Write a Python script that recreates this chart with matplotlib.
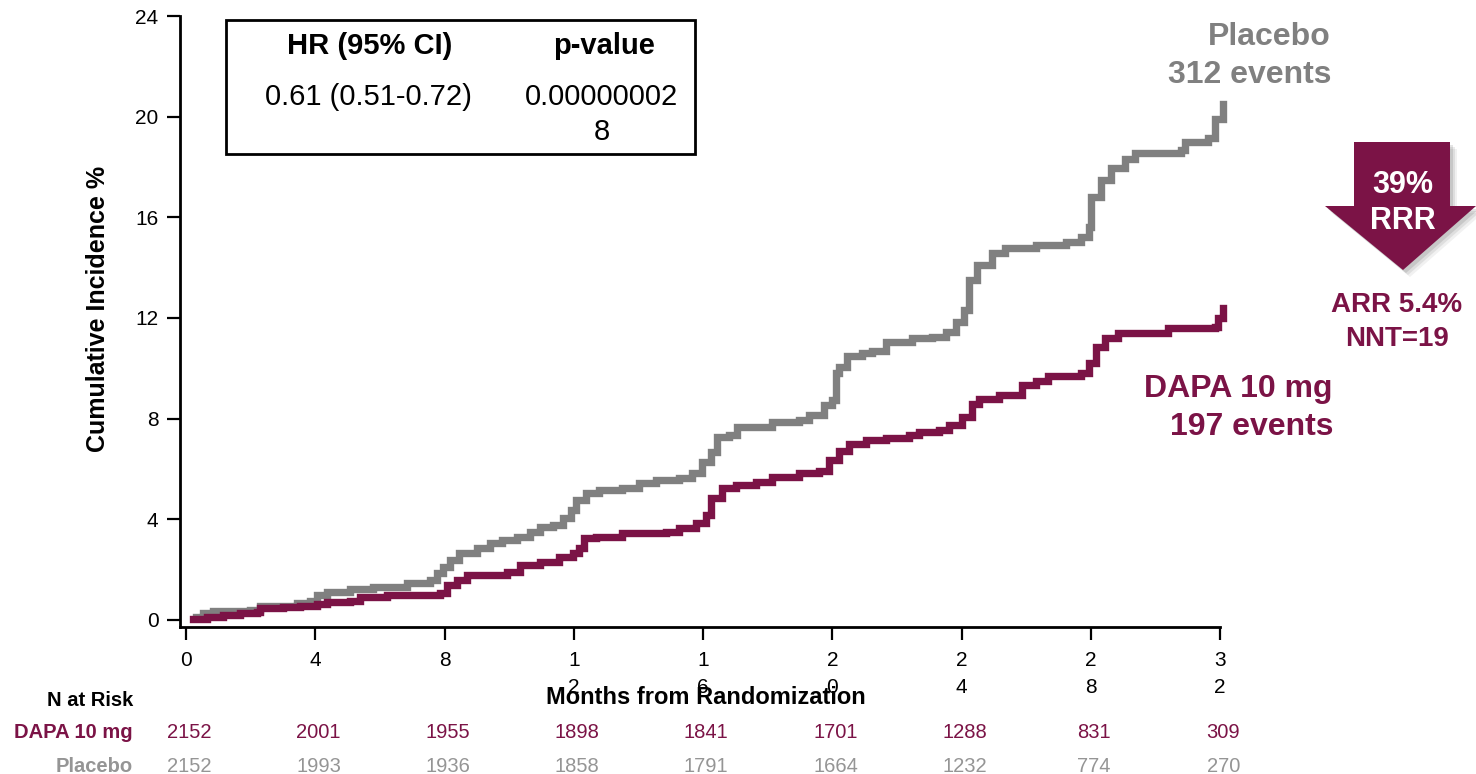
import numpy as np
import matplotlib.pyplot as plt
from matplotlib.patches import Rectangle, Polygon
from matplotlib.transforms import blended_transform_factory

plt.rcParams['font.family'] = ['Liberation Sans', 'DejaVu Sans']

W, H = 1476, 774
PURPLE = '#7b1346'
GREY = '#808080'
LIGHT_GREY = '#959595'

# cumulative incidence, placebo arm (months, %)
placebo_t = [0.31, 0.53, 0.83, 1.98, 2.29, 3.43, 3.83, 4.05, 4.36, 5.07, 5.78, 6.83,
             7.54, 7.75, 7.94, 8.16, 8.46, 8.99, 9.39, 9.79, 10.23, 10.63, 10.94, 11.34,
             11.65, 11.92, 12.08, 12.39, 12.79, 13.50, 14.03, 14.55, 15.26, 15.66, 15.97,
             16.25, 16.43, 16.81, 17.05, 18.13, 18.97, 19.28, 19.74, 19.99, 20.11, 20.20,
             20.45, 20.91, 21.22, 21.66, 22.46, 23.08, 23.51, 23.82, 24.07, 24.22, 24.47,
             24.93, 25.36, 26.29, 27.22, 27.71, 27.93, 28.02, 28.33, 28.64, 29.07, 29.38,
             30.80, 30.92, 31.63, 31.85, 32.10]
placebo_y = [0.10, 0.28, 0.36, 0.40, 0.56, 0.68, 0.75, 1.00, 1.11, 1.23, 1.31, 1.47,
             1.60, 1.87, 2.10, 2.38, 2.66, 2.86, 3.05, 3.18, 3.30, 3.50, 3.70, 3.77,
             4.05, 4.37, 4.77, 5.05, 5.16, 5.24, 5.44, 5.56, 5.64, 5.84, 6.28,
             6.67, 7.27, 7.35, 7.67, 7.87, 7.95, 8.14, 8.54, 8.74, 9.80, 10.05,
             10.50, 10.60, 10.70, 11.05, 11.20, 11.25, 11.45, 11.84, 12.30, 13.50, 14.10,
             14.60, 14.80, 14.90, 15.00, 15.20, 15.60, 16.80, 17.50, 17.95, 18.30, 18.55,
             18.67, 19.00, 19.15, 19.90, 20.50]

# cumulative incidence, dapagliflozin arm (months, %)
dapa_t = [0.20, 0.65, 1.14, 1.67, 2.19, 2.29, 3.00, 3.52, 4.05, 4.36, 5.07, 5.38, 6.21,
          7.85, 8.06, 8.37, 8.68, 9.92, 10.32, 10.94, 11.55, 11.96, 12.17, 12.33, 12.70,
          13.50, 14.86, 15.26, 15.79, 16.09, 16.25, 16.59, 17.02, 17.64, 18.13, 18.97,
          19.59, 19.90, 20.20, 20.51, 21.04, 21.66, 22.37, 22.68, 23.29, 23.60, 24.00,
          24.31, 24.53, 25.15, 25.86, 26.29, 26.69, 27.71, 27.93, 28.17, 28.45, 28.85,
          30.40, 31.85, 31.94, 32.10]
dapa_y = [0.05, 0.12, 0.20, 0.28, 0.32, 0.48, 0.52, 0.56, 0.64, 0.72, 0.75, 0.91, 1.00,
          1.07, 1.39, 1.60, 1.79, 1.91, 2.19, 2.30, 2.50, 2.66, 2.86, 3.26, 3.30,
          3.45, 3.50, 3.65, 3.85, 4.17, 4.85, 5.24, 5.36, 5.50, 5.70, 5.83,
          5.90, 6.36, 6.70, 7.00, 7.15, 7.23, 7.35, 7.47, 7.55, 7.75, 8.07,
          8.60, 8.80, 8.95, 9.35, 9.50, 9.70, 9.80, 10.20, 10.85, 11.20, 11.40,
          11.60, 11.65, 12.00, 12.40]

x_ticks = [0, 4, 8, 12, 16, 20, 24, 28, 32]
x_tick_labels = ['0', '4', '8', '1\n2', '1\n6', '2\n0', '2\n4', '2\n8', '3\n2']
y_ticks = [0, 4, 8, 12, 16, 20, 24]

risk_dapa = [2152, 2001, 1955, 1898, 1841, 1701, 1288, 831, 309]
risk_placebo = [2152, 1993, 1936, 1858, 1791, 1664, 1232, 774, 270]


def fx(x):
    return x / W


def fy(y):
    return 1 - y / H


fig = plt.figure(figsize=(W / 100, H / 100), dpi=100)
ax_w = (1220 - 180) / W
ax = fig.add_axes([fx(180), fy(627), ax_w, (627 - 16) / H])

ax.step(placebo_t, placebo_y, where='post', color=GREY, lw=5.3,
        solid_joinstyle='miter', clip_on=False)
ax.step(dapa_t, dapa_y, where='post', color=PURPLE, lw=5.3,
        solid_joinstyle='miter', clip_on=False)

ax.set_xlim(-0.19, 32)
ax.set_ylim(-0.28, 24)
ax.set_xticks(x_ticks)
ax.set_xticklabels(x_tick_labels, linespacing=1.5)
ax.set_yticks(y_ticks)
ax.tick_params(axis='both', direction='out', length=9.5, width=1.6,
               labelsize=15, colors='black')
ax.tick_params(axis='x', pad=8)
ax.tick_params(axis='y', pad=6)
for side in ['top', 'right']:
    ax.spines[side].set_visible(False)
for side in ['left', 'bottom']:
    ax.spines[side].set_linewidth(2)

ax.set_ylabel('Cumulative Incidence %', fontsize=18, fontweight='bold')
ax.yaxis.set_label_coords(fx(110 - 180) / ax_w, 0.52)
fig.text(fx(706), fy(698), 'Months from Randomization', fontsize=17,
         fontweight='bold', ha='center', va='center')

# hazard ratio box
fig.patches.append(Rectangle((fx(226), fy(154)), (695 - 226) / W, (154 - 20) / H,
                             transform=fig.transFigure, fill=False,
                             edgecolor='black', lw=2))
fig.text(fx(370), fy(46), 'HR (95% CI)', fontsize=21, fontweight='bold',
         ha='center', va='center')
fig.text(fx(604), fy(46), 'p-value', fontsize=21, fontweight='bold',
         ha='center', va='center')
fig.text(fx(368), fy(97), '0.61 (0.51-0.72)', fontsize=21, ha='center', va='center')
fig.text(fx(602), fy(97), '0.00000002', fontsize=21, ha='center', va='center')
fig.text(fx(602), fy(132), '8', fontsize=21, ha='center', va='center')

# curve labels
fig.text(fx(1331), fy(37), 'Placebo', fontsize=23, fontweight='bold',
         color=GREY, ha='right', va='center')
fig.text(fx(1331), fy(75), '312 events', fontsize=23, fontweight='bold',
         color=GREY, ha='right', va='center')
fig.text(fx(1333), fy(389), 'DAPA 10 mg', fontsize=23, fontweight='bold',
         color=PURPLE, ha='right', va='center')
fig.text(fx(1333), fy(427), '197 events', fontsize=23, fontweight='bold',
         color=PURPLE, ha='right', va='center')

# down arrow with soft shadow
arrow_px = [(1354, 142), (1450, 142), (1450, 206), (1476, 206),
            (1403, 270), (1325, 206), (1354, 206)]
for k, a in zip([7, 5, 3], [0.07, 0.10, 0.14]):
    pts = [(fx(x + k), fy(y + k)) for x, y in arrow_px]
    fig.patches.append(Polygon(pts, closed=True, transform=fig.transFigure,
                               facecolor='#404040', edgecolor='none', alpha=a))
fig.patches.append(Polygon([(fx(x), fy(y)) for x, y in arrow_px], closed=True,
                           transform=fig.transFigure, facecolor=PURPLE,
                           edgecolor='none'))
fig.text(fx(1403), fy(185), '39%', fontsize=22, fontweight='bold',
         color='white', ha='center', va='center')
fig.text(fx(1403), fy(221), 'RRR', fontsize=22, fontweight='bold',
         color='white', ha='center', va='center')
fig.text(fx(1397), fy(305), 'ARR 5.4%', fontsize=20, fontweight='bold',
         color=PURPLE, ha='center', va='center')
fig.text(fx(1397), fy(339), 'NNT=19', fontsize=20, fontweight='bold',
         color=PURPLE, ha='center', va='center')

# number at risk table
fig.text(fx(133), fy(701), 'N at Risk', fontsize=14.5, fontweight='bold',
         ha='right', va='center')
fig.text(fx(133), fy(733), 'DAPA 10 mg', fontsize=14.5, fontweight='bold',
         color=PURPLE, ha='right', va='center')
fig.text(fx(133), fy(766), 'Placebo', fontsize=14.5, fontweight='bold',
         color=LIGHT_GREY, ha='right', va='center')
trans = blended_transform_factory(ax.transData, fig.transFigure)
for t, nd, npl in zip(x_ticks, risk_dapa, risk_placebo):
    ax.text(t + 0.1, fy(733), str(nd), fontsize=14.5, color=PURPLE,
            ha='center', va='center', transform=trans, clip_on=False)
    ax.text(t + 0.1, fy(766), str(npl), fontsize=14.5, color=LIGHT_GREY,
            ha='center', va='center', transform=trans, clip_on=False)

fig.savefig('out.png', dpi=100)
